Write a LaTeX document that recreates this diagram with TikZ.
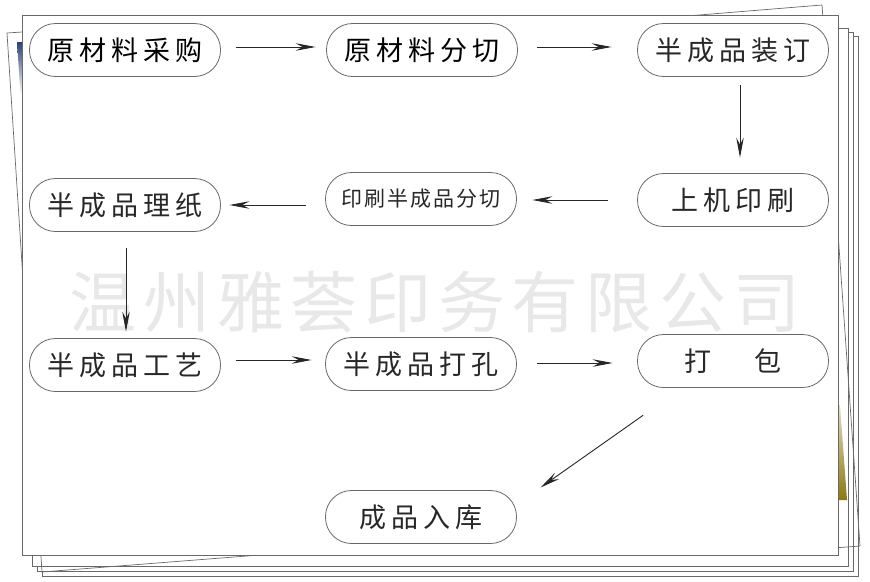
\documentclass[tikz,border=0pt]{standalone}
\usepackage{fontspec}
\newfontfamily\cjk{Noto Sans CJK SC}
\usetikzlibrary{arrows.meta,positioning}

\definecolor{inkgray}{RGB}{40,40,40}
\definecolor{edgegray}{RGB}{105,105,105}
\definecolor{navy}{RGB}{45,65,115}
\definecolor{olivebar}{RGB}{140,120,20}

\tikzset{
  sheet/.style={draw=edgegray, line width=0.7pt, fill=white},
  stage/.style={draw=edgegray, line width=0.8pt, rounded corners=26pt,
    minimum width=191pt, minimum height=53pt, inner sep=0pt, text=inkgray,
    font=\cjk\fontsize{27}{27}\selectfont\addfontfeature{LetterSpace=18}},
  smallstage/.style={stage, font=\cjk\fontsize{21}{21}\selectfont\addfontfeature{LetterSpace=10}},
  watermark/.style={text=black!9, font=\cjk\fontsize{67}{67}\selectfont\addfontfeature{LetterSpace=10}},
  flow/.style={-{Stealth[length=20pt,width=7.5pt,inset=7pt]}, line width=0.9pt, draw=black!85}
}

\begin{document}
\begin{tikzpicture}[x=1pt,y=-1pt]
    \useasboundingbox (0,0) rectangle (870,581);

    % paper stack behind
    \draw[sheet] (42,36) rectangle (858,576);
    \draw[sheet] (37,32) rectangle (853,571);
    \draw[sheet] (32,28) rectangle (848,566);
    \draw[sheet, fill=none] (650,19) -- (822,5) -- (860,546) -- (780,552) -- cycle;
    \draw[sheet, fill=none] (7,33) -- (250,17) -- (285,553) -- (42,572) -- cycle;
    \shade[top color=navy, bottom color=white] (17,42) -- (22,42) -- (22,95) -- (20.5,95) -- cycle;
    \shade[top color=olivebar!25, bottom color=olivebar] (838,405) -- (840,405) -- (847,500) -- (838,500) -- cycle;
    \draw[sheet] (22,15) rectangle (838,555);

    \node[watermark] (wmark) at (435,302) {温州雅荟印务有限公司};

    \node[stage, text=black] (buy) at (125,50) {原材料采购};
    \node[stage, text=black] (cut) at (422,50) {原材料分切};
    \node[stage] (bind) at (733,50) {半成品装订};

    \node[stage] (press) at (733,200) {上机印刷};
    \node[smallstage] (split) at (421,199) {印刷半成品分切};
    \node[stage] (sort) at (125,205) {半成品理纸};

    \node[stage] (craft) at (125,365) {半成品工艺};
    \node[stage] (punch) at (421,364) {半成品打孔};
    \node[stage] (pack) at (733,361) {打\hspace{44pt}包};

    \node[stage] (store) at (421,517) {成品入库};

    \draw[flow, shorten <=15.5pt, shorten >=10.5pt] ([yshift=3pt]buy.east) -- ([yshift=3pt]cut.west);
    \draw[flow, shorten <=19.5pt, shorten >=25.5pt] ([yshift=3pt]cut.east) -- ([yshift=3pt]bind.west);
    \draw[flow, shorten <=8.5pt, shorten >=15.5pt] ([xshift=7pt]bind.south) -- ([xshift=7pt]press.north);
    \draw[flow, shorten <=29.5pt, shorten >=15.5pt] (press.west) -- ([yshift=-1pt]split.east);
    \draw[flow, shorten <=19.5pt, shorten >=8.5pt] ([yshift=-6pt]split.west) -- (sort.east);
    \draw[flow, shorten <=16.5pt, shorten >=6.5pt] ([xshift=1pt]sort.south) -- ([xshift=1pt]craft.north);
    \draw[flow, shorten <=15.5pt, shorten >=13.5pt] ([yshift=5pt]craft.east) -- ([yshift=4pt]punch.west);
    \draw[flow, shorten <=20.5pt, shorten >=24.5pt] ([yshift=1pt]punch.east) -- ([yshift=-2pt]pack.west);
    \draw[flow, shorten <=47.5pt, shorten >=4.5pt] ([xshift=-51pt]pack.south) -- ([xshift=20pt]store.north east);
\end{tikzpicture}
\end{document}
